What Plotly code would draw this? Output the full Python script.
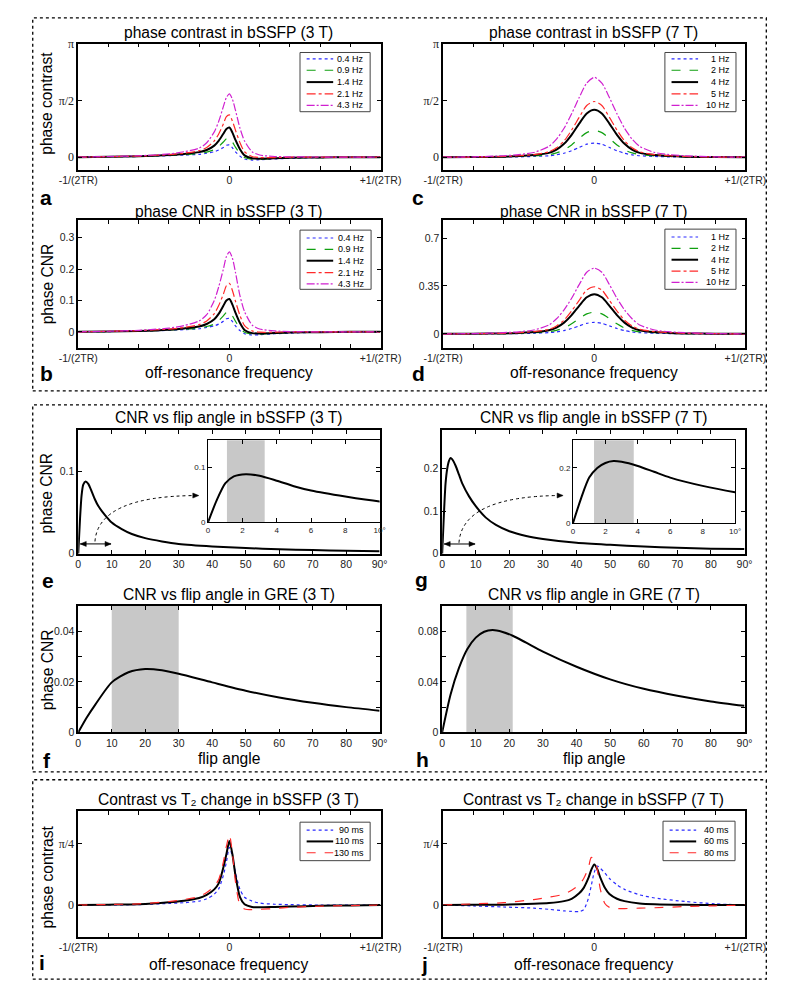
import plotly.graph_objects as go

# ---------------- data ----------------
X3T = [-1, -0.8, -0.6, -0.4, -0.3, -0.2, -0.15, -0.1, -0.07, -0.04, -0.02, 0,
       0.02, 0.04, 0.07, 0.1, 0.15, 0.2, 0.3, 0.4, 0.6, 0.8, 1]
X7T = [-1, -0.8, -0.6, -0.5, -0.4, -0.3, -0.25, -0.2, -0.15, -0.1, -0.05, 0,
       0.05, 0.1, 0.15, 0.2, 0.25, 0.3, 0.4, 0.5, 0.6, 0.8, 1]

LABELS_3T = ['0.4 Hz', '0.9 Hz', '1.4 Hz', '2.1 Hz', '4.3 Hz']
LABELS_7T = ['1 Hz', '2 Hz', '4 Hz', '5 Hz', '10 Hz']

# panel a: phase contrast (rad), 3 T
PC3_04 = [0, 0.01, 0.02, 0.04, 0.06, 0.08, 0.11, 0.15, 0.2, 0.27, 0.33, 0.34, 0.26, 0.15, 0.03, -0.05, -0.08, -0.07, -0.05, -0.03, -0.01, -0.005, 0]
PC3_09 = [0, 0.01, 0.02, 0.05, 0.07, 0.1, 0.14, 0.21, 0.3, 0.42, 0.51, 0.53, 0.42, 0.28, 0.1, -0.01, -0.06, -0.06, -0.04, -0.02, -0.01, -0.005, 0]
PC3_14 = [0, 0.01, 0.025, 0.06, 0.09, 0.14, 0.2, 0.32, 0.46, 0.65, 0.78, 0.82, 0.68, 0.48, 0.22, 0.05, -0.03, -0.04, -0.03, -0.015, -0.005, 0, 0]
PC3_21 = [0, 0.015, 0.03, 0.07, 0.11, 0.18, 0.27, 0.45, 0.65, 0.92, 1.12, 1.17, 1.0, 0.75, 0.4, 0.15, 0.02, -0.01, -0.01, 0, 0, 0, 0]
PC3_43 = [0, 0.02, 0.04, 0.09, 0.15, 0.25, 0.4, 0.7, 1.0, 1.4, 1.65, 1.75, 1.6, 1.3, 0.8, 0.45, 0.15, 0.06, 0.02, 0.01, 0.005, 0, 0]

# panel b: phase CNR, 3 T
CNR3_04 = [0, 0.001, 0.002, 0.005, 0.007, 0.01, 0.014, 0.019, 0.025, 0.034, 0.042, 0.043, 0.033, 0.019, 0.004, -0.006, -0.01, -0.009, -0.006, -0.004, -0.001, -0.0005, 0]
CNR3_09 = [0, 0.001, 0.002, 0.006, 0.008, 0.012, 0.017, 0.025, 0.036, 0.051, 0.062, 0.064, 0.051, 0.034, 0.012, -0.001, -0.007, -0.007, -0.005, -0.002, -0.001, 0, 0]
CNR3_14 = [0, 0.001, 0.003, 0.007, 0.011, 0.017, 0.025, 0.04, 0.058, 0.083, 0.1, 0.105, 0.087, 0.061, 0.028, 0.006, -0.004, -0.005, -0.004, -0.002, -0.001, 0, 0]
CNR3_21 = [0, 0.002, 0.004, 0.009, 0.014, 0.023, 0.035, 0.058, 0.085, 0.12, 0.147, 0.155, 0.132, 0.098, 0.052, 0.02, 0.003, -0.001, -0.001, 0, 0, 0, 0]
CNR3_43 = [0, 0.002, 0.005, 0.012, 0.02, 0.035, 0.055, 0.1, 0.145, 0.2, 0.24, 0.255, 0.235, 0.19, 0.115, 0.065, 0.022, 0.009, 0.003, 0.001, 0, 0, 0]

# panel c: phase contrast (rad), 7 T
PC7_1 = [0, 0.002, 0.005, 0.01, 0.02, 0.04, 0.065, 0.11, 0.18, 0.27, 0.36, 0.39, 0.36, 0.27, 0.18, 0.11, 0.065, 0.04, 0.02, 0.01, 0.005, 0.002, 0]
PC7_2 = [0, 0.003, 0.01, 0.02, 0.035, 0.07, 0.12, 0.2, 0.34, 0.52, 0.68, 0.74, 0.68, 0.52, 0.34, 0.2, 0.12, 0.07, 0.035, 0.02, 0.01, 0.003, 0]
PC7_4 = [0, 0.005, 0.015, 0.03, 0.06, 0.12, 0.21, 0.37, 0.62, 0.93, 1.21, 1.31, 1.21, 0.93, 0.62, 0.37, 0.21, 0.12, 0.06, 0.03, 0.015, 0.005, 0]
PC7_5 = [0, 0.005, 0.02, 0.04, 0.07, 0.15, 0.26, 0.45, 0.75, 1.1, 1.43, 1.54, 1.43, 1.1, 0.75, 0.45, 0.26, 0.15, 0.07, 0.04, 0.02, 0.005, 0]
PC7_10 = [0, 0.01, 0.04, 0.07, 0.13, 0.3, 0.5, 0.8, 1.2, 1.65, 2.05, 2.21, 2.05, 1.65, 1.2, 0.8, 0.5, 0.3, 0.13, 0.07, 0.04, 0.01, 0]

# panel d: phase CNR, 7 T
CNR7_1 = [0, 0, 0.001, 0.002, 0.004, 0.009, 0.014, 0.024, 0.039, 0.058, 0.077, 0.084, 0.077, 0.058, 0.039, 0.024, 0.014, 0.009, 0.004, 0.002, 0.001, 0, 0]
CNR7_2 = [0, 0.001, 0.002, 0.004, 0.008, 0.015, 0.026, 0.043, 0.073, 0.112, 0.146, 0.159, 0.146, 0.112, 0.073, 0.043, 0.026, 0.015, 0.008, 0.004, 0.002, 0.001, 0]
CNR7_4 = [0, 0.001, 0.003, 0.007, 0.013, 0.027, 0.046, 0.082, 0.137, 0.205, 0.267, 0.29, 0.267, 0.205, 0.137, 0.082, 0.046, 0.027, 0.013, 0.007, 0.003, 0.001, 0]
CNR7_5 = [0, 0.001, 0.004, 0.009, 0.016, 0.033, 0.058, 0.1, 0.167, 0.245, 0.32, 0.344, 0.32, 0.245, 0.167, 0.1, 0.058, 0.033, 0.016, 0.009, 0.004, 0.001, 0]
CNR7_10 = [0, 0.002, 0.009, 0.015, 0.028, 0.065, 0.11, 0.175, 0.26, 0.36, 0.45, 0.48, 0.45, 0.36, 0.26, 0.175, 0.11, 0.065, 0.028, 0.015, 0.009, 0.002, 0]

# panels e-h: CNR vs flip angle
FA_E = [0, 0.5, 1, 1.5, 2.2, 3, 4, 5, 6, 8, 10, 13, 16, 20, 25, 30, 40, 50, 60, 70, 80, 90]
CNR_E = [0, 0.04, 0.071, 0.084, 0.088, 0.085, 0.076, 0.066, 0.058, 0.047, 0.038, 0.03, 0.024, 0.019, 0.015, 0.012, 0.009, 0.007, 0.0055, 0.0045, 0.0038, 0.0032]
FA_G = [0, 0.5, 1, 1.5, 2, 2.5, 3, 4, 5, 6, 8, 10, 13, 16, 20, 25, 30, 40, 50, 60, 70, 80, 90]
CNR_G = [0, 0.09, 0.165, 0.2, 0.218, 0.225, 0.222, 0.207, 0.186, 0.165, 0.135, 0.112, 0.085, 0.068, 0.053, 0.042, 0.035, 0.026, 0.021, 0.017, 0.014, 0.012, 0.011]
FA_F = [0, 2.5, 5, 10, 15, 20, 25, 30, 40, 50, 60, 70, 80, 90]
CNR_F = [0, 0.0058, 0.0108, 0.0198, 0.0238, 0.0251, 0.0246, 0.0232, 0.0198, 0.0165, 0.0138, 0.0117, 0.0100, 0.0086]
FA_H = [0, 2.5, 5, 7.5, 10, 12.5, 15, 18, 21, 25, 30, 40, 50, 60, 70, 80, 90]
CNR_H = [0, 0.03, 0.051, 0.066, 0.075, 0.0797, 0.081, 0.0795, 0.0765, 0.071, 0.064, 0.052, 0.042, 0.0345, 0.029, 0.0245, 0.021]

BAND_E_INSET = [1.1, 3.3]
BAND_G_INSET = [1.3, 3.75]
BAND_F = [10, 30]
BAND_H = [7.2, 21]

# panels i, j: contrast vs T2 change
LABELS_T2_3T = ['90 ms', '110 ms', '130 ms']
LABELS_T2_7T = ['40 ms', '60 ms', '80 ms']
T2_3_90 = [0, 0.002, 0.005, 0.02, 0.03, 0.05, 0.08, 0.14, 0.21, 0.38, 0.55, 0.74, 0.62, 0.42, 0.2, 0.1, 0.05, 0.025, 0.01, 0.005, 0, 0, 0]
T2_3_110 = [0, 0.005, 0.01, 0.035, 0.055, 0.09, 0.13, 0.2, 0.28, 0.48, 0.65, 0.82, 0.65, 0.38, 0.1, 0.01, -0.025, -0.03, -0.025, -0.02, -0.01, -0.005, 0]
T2_3_130 = [0, 0.007, 0.015, 0.045, 0.07, 0.11, 0.16, 0.24, 0.33, 0.55, 0.75, 0.9, 0.66, 0.3, 0.0, -0.05, -0.06, -0.055, -0.045, -0.03, -0.015, -0.007, 0]
T2_7_40 = [0, -0.012, -0.025, -0.04, -0.055, -0.075, -0.082, -0.084, -0.06, 0.08, 0.25, 0.42, 0.5, 0.47, 0.41, 0.34, 0.26, 0.2, 0.13, 0.09, 0.045, 0.015, 0]
T2_7_60 = [0, 0.002, 0.005, 0.015, 0.025, 0.05, 0.08, 0.15, 0.22, 0.34, 0.45, 0.52, 0.46, 0.35, 0.22, 0.14, 0.08, 0.05, 0.02, 0.01, 0.003, 0.001, 0]
T2_7_80 = [0, 0.015, 0.03, 0.07, 0.1, 0.14, 0.19, 0.26, 0.34, 0.47, 0.61, 0.58, 0.45, 0.2, 0.02, -0.03, -0.045, -0.045, -0.04, -0.035, -0.02, -0.01, 0]

PI = 3.141592653589793
OFF_TICKS = [-1, 0, 1]
OFF_TEXT = ['-1/(2TR)', '0', '+1/(2TR)']
OFF_MINOR = [-0.8, -0.6, -0.4, -0.2, 0.2, 0.4, 0.6, 0.8]
FA_TICKS = [0, 10, 20, 30, 40, 50, 60, 70, 80, 90]
FA_TEXT = ['0', '10', '20', '30', '40', '50', '60', '70', '80', '90°']
IN_TICKS = [0, 2, 4, 6, 8, 10]
IN_TEXT = ['0', '2', '4', '6', '8', '10°']

# ---------------- layout helpers ----------------
W, H = 785, 983
def fx(p): return p / W
def fy(p): return 1 - p / H

SANS = 'Liberation Sans, Arial, sans-serif'
SERIF = 'Liberation Serif, Times New Roman, serif'

PANELS = {
    'a': (53, 372, 29, 157), 'c': (438, 757, 29, 157),
    'b': (53, 372, 208, 337), 'd': (438, 757, 208, 337),
    'e': (53, 371, 421, 546), 'g': (437, 756, 421, 546),
    'ei': (190, 371, 431, 514), 'gi': (575, 746, 431, 515),
    'f': (53, 371, 599, 727), 'h': (437, 756, 599, 727),
    'i': (53, 372, 807, 934), 'j': (438, 757, 807, 934),
}
ORDER = ['a', 'c', 'b', 'd', 'e', 'g', 'ei', 'gi', 'f', 'h', 'i', 'j']
SUF = {k: ('' if i == 0 else str(i + 1)) for i, k in enumerate(ORDER)}

fig = go.Figure()

def set_axes(k, xr, yr, xtv, xtt, ytv, ytt, xminor=None, yminor=None,
             xfont=10.5, yfont=10.5, yfam=SANS, lw=1.5):
    s = SUF[k]
    x0, x1, y0, y1 = PANELS[k]
    common = dict(showline=True, linecolor='black', linewidth=lw, mirror='ticks',
                  ticks='inside', ticklen=4, tickwidth=1, tickcolor='black',
                  showgrid=False, zeroline=False, tickmode='array', fixedrange=True)
    xa = dict(domain=[fx(x0), fx(x1)], range=xr, anchor='y' + s, tickvals=xtv, ticktext=xtt,
              tickfont=dict(family=SANS, size=xfont, color='#222'), **common)
    ya = dict(domain=[fy(y1), fy(y0)], range=yr, anchor='x' + s, tickvals=ytv, ticktext=ytt,
              tickfont=dict(family=yfam, size=yfont, color='#222'), **common)
    if xminor:
        xa['minor'] = dict(tickmode='array', tickvals=xminor, ticks='inside', ticklen=4,
                           tickcolor='black', showgrid=False)
    if yminor:
        ya['minor'] = dict(tickmode='array', tickvals=yminor, ticks='inside', ticklen=4,
                           tickcolor='black', showgrid=False)
    fig.update_layout(**{'xaxis' + s: xa, 'yaxis' + s: ya})

def add_line(k, x, y, color, dash, width):
    s = SUF[k]
    fig.add_trace(go.Scatter(x=x, y=y, xaxis='x' + s, yaxis='y' + s, mode='lines',
                             line=dict(color=color, dash=dash, width=width,
                                       shape='spline', smoothing=0.7),
                             showlegend=False, hoverinfo='skip'))

def text(x, y, t, size=15.6, bold=False, angle=0, anchor='center', fam=SANS):
    fig.add_annotation(xref='paper', yref='paper', x=fx(x), y=fy(y),
                       text=('<b>%s</b>' % t) if bold else t,
                       showarrow=False, xanchor=anchor, yanchor='middle', textangle=angle,
                       font=dict(family=fam, size=size, color='black'))

def legend(box, rows, names, styles):
    x0, x1, y0, y1 = box
    fig.add_shape(type='rect', xref='paper', yref='paper', x0=fx(x0), x1=fx(x1),
                  y0=fy(y1), y1=fy(y0), line=dict(color='#444', width=1), fillcolor='white')
    for yy, name, (c, d, w) in zip(rows, names, styles):
        fig.add_shape(type='line', xref='paper', yref='paper', x0=fx(x0 + 7), x1=fx(x0 + 35),
                      y0=fy(yy), y1=fy(yy), line=dict(color=c, dash=d, width=w))
        text(x1 - 4, yy, name, size=9, anchor='right')

BLUE, GREEN, RED, MAG = '#2a2aff', '#10a010', '#ff2a2a', '#d020d0'
STY5 = [(BLUE, 'dot', 1.2), (GREEN, 'dash', 1.2), ('black', 'solid', 2),
        (RED, 'dashdot', 1.2), (MAG, '8px,2px,2px,2px', 1.2)]
STY3 = [(BLUE, 'dot', 1.2), ('black', 'solid', 2), (RED, 'dash', 1.2)]

# ---------------- axes ----------------
set_axes('a', [-1, 1], [-0.352, PI], OFF_TICKS, OFF_TEXT, [0, PI / 2, PI], ['0', 'π/2', 'π'],
         xminor=OFF_MINOR, yfont=12, yfam=SERIF)
set_axes('c', [-1, 1], [-0.352, PI], OFF_TICKS, OFF_TEXT, [0, PI / 2, PI], ['0', 'π/2', 'π'],
         xminor=OFF_MINOR, yfont=12, yfam=SERIF)
set_axes('b', [-1, 1], [-0.05, 0.356], OFF_TICKS, OFF_TEXT, [0, 0.1, 0.2, 0.3],
         ['0', '0.1', '0.2', '0.3'], xminor=OFF_MINOR)
set_axes('d', [-1, 1], [-0.1, 0.83], OFF_TICKS, OFF_TEXT, [0, 0.35, 0.7], ['0', '0.35', '0.7'],
         xminor=OFF_MINOR)
set_axes('e', [0, 90], [0, 0.15], FA_TICKS, FA_TEXT, [0, 0.1], ['0', '0.1'])
set_axes('g', [0, 90], [0, 0.29], FA_TICKS, FA_TEXT, [0, 0.1, 0.2], ['0', '0.1', '0.2'])
set_axes('ei', [0, 10], [0, 0.15], IN_TICKS, IN_TEXT, [0, 0.1], ['0', '0.1'],
         xfont=8, yfont=8, lw=1)
set_axes('gi', [0, 10], [0, 0.3], IN_TICKS, IN_TEXT, [0, 0.2], ['0', '0.2'],
         xfont=8, yfont=8, lw=1)
set_axes('f', [0, 90], [0, 0.05], FA_TICKS, FA_TEXT, [0, 0.02, 0.04], ['0', '0.02', '0.04'],
         yminor=[0.01, 0.03, 0.05])
set_axes('h', [0, 90], [0, 0.1], FA_TICKS, FA_TEXT, [0, 0.04, 0.08], ['0', '0.04', '0.08'],
         yminor=[0.02, 0.06, 0.1])
set_axes('i', [-1, 1], [-0.405, 1.2], OFF_TICKS, OFF_TEXT, [0, PI / 4], ['0', 'π/4'],
         xminor=OFF_MINOR, yfont=12, yfam=SERIF)
set_axes('j', [-1, 1], [-0.405, 1.2], OFF_TICKS, OFF_TEXT, [0, PI / 4], ['0', 'π/4'],
         xminor=OFF_MINOR, yfont=12, yfam=SERIF)

# ---------------- gray bands ----------------
for k, band in (('ei', BAND_E_INSET), ('gi', BAND_G_INSET), ('f', BAND_F), ('h', BAND_H)):
    s = SUF[k]
    fig.add_shape(type='rect', xref='x' + s, yref='y' + s + ' domain', x0=band[0], x1=band[1],
                  y0=0, y1=1, fillcolor='#c8c8c8', line=dict(width=0), layer='below')

# ---------------- curves ----------------
for ys, st in zip([PC3_04, PC3_09, PC3_14, PC3_21, PC3_43], STY5):
    add_line('a', X3T, ys, *st)
for ys, st in zip([CNR3_04, CNR3_09, CNR3_14, CNR3_21, CNR3_43], STY5):
    add_line('b', X3T, ys, *st)
for ys, st in zip([PC7_1, PC7_2, PC7_4, PC7_5, PC7_10], STY5):
    add_line('c', X7T, ys, *st)
for ys, st in zip([CNR7_1, CNR7_2, CNR7_4, CNR7_5, CNR7_10], STY5):
    add_line('d', X7T, ys, *st)
add_line('e', FA_E, CNR_E, 'black', 'solid', 2)
add_line('ei', FA_E, CNR_E, 'black', 'solid', 2)
add_line('g', FA_G, CNR_G, 'black', 'solid', 2)
add_line('gi', FA_G, CNR_G, 'black', 'solid', 2)
add_line('f', FA_F, CNR_F, 'black', 'solid', 2)
add_line('h', FA_H, CNR_H, 'black', 'solid', 2)
for ys, st in zip([T2_3_90, T2_3_110, T2_3_130], STY3):
    add_line('i', X3T, ys, *st)
for ys, st in zip([T2_7_40, T2_7_60, T2_7_80], STY3):
    add_line('j', X3T, ys, *st)

# ---------------- legends ----------------
legend((287, 361, 38, 98), [44.5, 56, 68, 80, 91.5], LABELS_3T, STY5)
legend((287, 362, 218, 278), [226, 237.5, 249, 261, 272.5], LABELS_3T, STY5)
legend((672, 747, 38, 98), [44.5, 56, 68, 80, 91.5], LABELS_7T, STY5)
legend((672, 747, 217, 278), [225, 236.5, 248, 259.5, 271], LABELS_7T, STY5)
legend((287, 361, 818, 857), [826, 837.5, 849], LABELS_T2_3T, STY3)
legend((670, 746, 817, 857), [826, 837.5, 849], LABELS_T2_7T, STY3)

# ---------------- zoom arrows (e, g) ----------------
def arrowhead(s, x, y, direction):
    d = 1 if direction > 0 else -1
    fig.add_shape(type='path', xref='x' + s, yref='y' + s, xsizemode='pixel', ysizemode='pixel',
                  xanchor=x, yanchor=y,
                  path='M 0,0 L %d,2.5 L %d,-2.5 Z' % (-6 * d, -6 * d),
                  fillcolor='black', line=dict(color='black', width=0.5))

for k, ya, yc0, yctl, ytip in (('e', 0.012, 0.015, 0.07, 0.0708), ('g', 0.023, 0.026, 0.135, 0.137)):
    s = SUF[k]
    fig.add_shape(type='line', xref='x' + s, yref='y' + s, x0=0.6, x1=9.8, y0=ya, y1=ya,
                  line=dict(color='black', width=1))
    arrowhead(s, 9.8, ya, 1)
    arrowhead(s, 0.6, ya, -1)
    fig.add_shape(type='path', xref='x' + s, yref='y' + s,
                  path='M 5,%g Q 6,%g 35,%g' % (yc0, yctl, ytip),
                  line=dict(color='black', width=1, dash='dot'))
    arrowhead(s, 36, ytip, 1)

# ---------------- titles / labels ----------------
TITLES = [
    (212, 18, 'phase contrast in bSSFP (3 T)'), (597, 18, 'phase contrast in bSSFP (7 T)'),
    (212, 199, 'phase CNR in bSSFP (3 T)'), (597, 199, 'phase CNR in bSSFP (7 T)'),
    (212, 408, 'CNR vs flip angle in bSSFP (3 T)'), (597, 408, 'CNR vs flip angle in bSSFP (7 T)'),
    (212, 587, 'CNR vs flip angle in GRE (3 T)'), (597, 587, 'CNR vs flip angle in GRE (7 T)'),
    (212, 795, 'Contrast vs T₂ change in bSSFP (3 T)'),
    (597, 795, 'Contrast vs T₂ change in bSSFP (7 T)'),
]
for x, y, t in TITLES:
    text(x, y, t)

for y, t in ((89, 'phase contrast'), (272, 'phase CNR'), (484, 'phase CNR'),
             (663, 'phase CNR'), (873, 'phase contrast')):
    text(20, y, t, angle=-90)

for x, y, t in ((212, 362, 'off-resonance frequency'), (597, 362, 'off-resonance frequency'),
                (212, 753, 'flip angle'), (597, 753, 'flip angle'),
                (212, 962, 'off-resonace frequency'), (597, 962, 'off-resonace frequency')):
    text(x, y, t)

for x, y, t in ((19, 185, 'a'), (412, 185, 'c'), (19, 363, 'b'), (412, 363, 'd'),
                (21, 573, 'e'), (415, 572, 'g'), (20, 755, 'f'), (416, 754, 'h'),
                (15, 960, 'i'), (418, 962, 'j')):
    text(x, y, t, size=21, bold=True)

# ---------------- dotted group frames ----------------
for y0, y1 in ((3, 381), (395, 767), (775, 977)):
    fig.add_shape(type='rect', xref='paper', yref='paper', x0=fx(5), x1=fx(779),
                  y0=fy(y1), y1=fy(y0), line=dict(color='black', width=1.3, dash='dot'))

fig.update_layout(width=W, height=H, autosize=False, margin=dict(l=0, r=0, t=0, b=0),
                  paper_bgcolor='white', plot_bgcolor='rgba(0,0,0,0)', showlegend=False)

fig.write_html('out.html', config={'displayModeBar': False})
